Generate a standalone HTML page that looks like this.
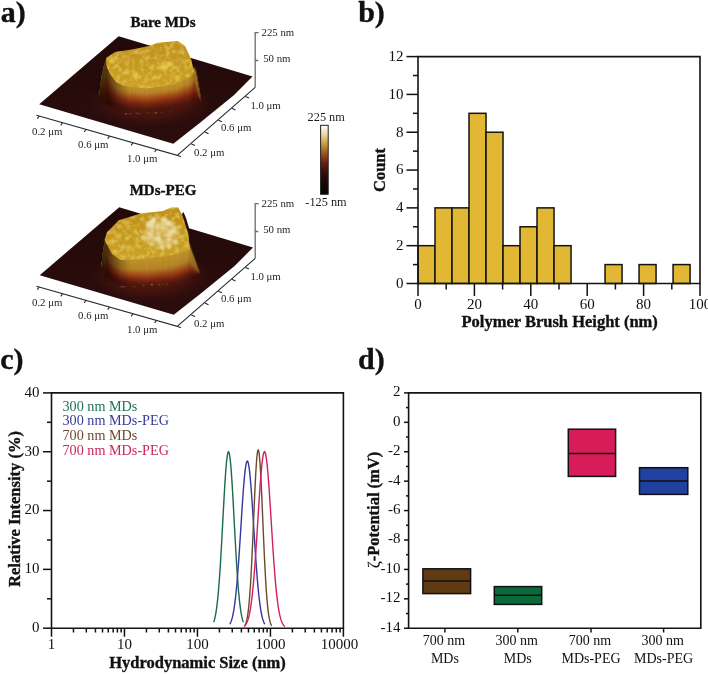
<!DOCTYPE html>
<html><head><meta charset="utf-8"><style>
html,body{margin:0;padding:0;background:#fff;}
svg{display:block;font-family:"Liberation Serif", serif;will-change:transform;}
</style></head><body>
<svg width="708" height="674" viewBox="0 0 708 674">
<defs>
<linearGradient id="plane" x1="0" y1="0" x2="0" y2="1"><stop offset="0" stop-color="#220909"/><stop offset="1" stop-color="#2c0d0d"/></linearGradient>
<linearGradient id="cbar" x1="0" y1="0" x2="0" y2="1"><stop offset="0" stop-color="#fffef5"/><stop offset="0.12" stop-color="#efdcaa"/><stop offset="0.28" stop-color="#c89838"/><stop offset="0.42" stop-color="#9a4a1c"/><stop offset="0.55" stop-color="#6a1c10"/><stop offset="0.68" stop-color="#3a0e0a"/><stop offset="0.85" stop-color="#150606"/><stop offset="1" stop-color="#060202"/></linearGradient>
<linearGradient id="wall-1" x1="0" y1="0" x2="0" y2="1"><stop offset="0" stop-color="#c19329"/><stop offset="0.3" stop-color="#b58327"/><stop offset="0.5" stop-color="#9d4617"/><stop offset="0.68" stop-color="#78230f"/><stop offset="0.86" stop-color="#4c170d"/><stop offset="1" stop-color="#42130d"/></linearGradient>
<linearGradient id="wall0" x1="0" y1="0" x2="0" y2="1"><stop offset="0" stop-color="#c4962a"/><stop offset="0.3" stop-color="#b88628"/><stop offset="0.5" stop-color="#a04818"/><stop offset="0.68" stop-color="#7a2410"/><stop offset="0.86" stop-color="#4e180e"/><stop offset="1" stop-color="#44140e"/></linearGradient>
<linearGradient id="wall1" x1="0" y1="0" x2="0" y2="1"><stop offset="0" stop-color="#c6982a"/><stop offset="0.3" stop-color="#ba8828"/><stop offset="0.5" stop-color="#a24918"/><stop offset="0.68" stop-color="#7b2410"/><stop offset="0.86" stop-color="#4f180e"/><stop offset="1" stop-color="#45140e"/></linearGradient>
<linearGradient id="wall2" x1="0" y1="0" x2="0" y2="1"><stop offset="0" stop-color="#c99a2b"/><stop offset="0.3" stop-color="#bd8a29"/><stop offset="0.5" stop-color="#a44a18"/><stop offset="0.68" stop-color="#7d2510"/><stop offset="0.86" stop-color="#50180e"/><stop offset="1" stop-color="#46140e"/></linearGradient>
<linearGradient id="wallB-1" x1="0" y1="0" x2="0" y2="1"><stop offset="0" stop-color="#c19329"/><stop offset="0.42" stop-color="#b18227"/><stop offset="0.6" stop-color="#9d4617"/><stop offset="0.75" stop-color="#78230f"/><stop offset="0.9" stop-color="#4c170d"/><stop offset="1" stop-color="#42130d"/></linearGradient>
<linearGradient id="wallB0" x1="0" y1="0" x2="0" y2="1"><stop offset="0" stop-color="#c4962a"/><stop offset="0.42" stop-color="#b48428"/><stop offset="0.6" stop-color="#a04818"/><stop offset="0.75" stop-color="#7a2410"/><stop offset="0.9" stop-color="#4e180e"/><stop offset="1" stop-color="#44140e"/></linearGradient>
<linearGradient id="wallB1" x1="0" y1="0" x2="0" y2="1"><stop offset="0" stop-color="#c6982a"/><stop offset="0.42" stop-color="#b68528"/><stop offset="0.6" stop-color="#a24918"/><stop offset="0.75" stop-color="#7b2410"/><stop offset="0.9" stop-color="#4f180e"/><stop offset="1" stop-color="#45140e"/></linearGradient>
<linearGradient id="wallB2" x1="0" y1="0" x2="0" y2="1"><stop offset="0" stop-color="#c99a2b"/><stop offset="0.42" stop-color="#b98729"/><stop offset="0.6" stop-color="#a44a18"/><stop offset="0.75" stop-color="#7d2510"/><stop offset="0.9" stop-color="#50180e"/><stop offset="1" stop-color="#46140e"/></linearGradient>
<linearGradient id="topg" x1="0" y1="0" x2="0" y2="1"><stop offset="0" stop-color="#c08e1e"/><stop offset="0.6" stop-color="#c69a22"/><stop offset="1" stop-color="#cca028"/></linearGradient>
<filter id="wallblur" x="-5%" y="-10%" width="110%" height="120%"><feGaussianBlur stdDeviation="0.35 1.3"/></filter>
<filter id="tex" x="0%" y="0%" width="100%" height="100%"><feTurbulence type="fractalNoise" baseFrequency="0.2" numOctaves="2" seed="7" result="n"/><feColorMatrix in="n" type="matrix" values="0 0 0 0 0.92  0 0 0 0 0.78  0 0 0 0 0.16  0 0 0 1.1 -0.48" result="sp"/><feGaussianBlur in="sp" stdDeviation="0.7" result="spb"/><feComposite in="spb" in2="SourceGraphic" operator="in" result="s2"/><feTurbulence type="fractalNoise" baseFrequency="0.18" numOctaves="2" seed="11" result="n2"/><feColorMatrix in="n2" type="matrix" values="0 0 0 0 0.62  0 0 0 0 0.42  0 0 0 0 0.04  0 0 0 0.8 -0.36" result="dk"/><feComposite in="dk" in2="SourceGraphic" operator="in" result="d2"/><feMerge><feMergeNode in="SourceGraphic"/><feMergeNode in="d2"/><feMergeNode in="s2"/></feMerge></filter>
<filter id="soft" x="-10%" y="-10%" width="120%" height="120%"><feGaussianBlur stdDeviation="0.6"/></filter>
<filter id="blur1" x="-50%" y="-50%" width="200%" height="200%"><feGaussianBlur stdDeviation="0.9"/></filter>
<linearGradient id="wallshade" x1="0" y1="0" x2="1" y2="0"><stop offset="0" stop-color="#1a0a00" stop-opacity="0.85"/><stop offset="0.1" stop-color="#1a0a00" stop-opacity="0.55"/><stop offset="0.2" stop-color="#1a0a00" stop-opacity="0.25"/><stop offset="0.3" stop-color="#1a0a00" stop-opacity="0"/><stop offset="0.88" stop-color="#1a0a00" stop-opacity="0"/><stop offset="0.96" stop-color="#1a0a00" stop-opacity="0.25"/><stop offset="1" stop-color="#1a0a00" stop-opacity="0.5"/></linearGradient>
<radialGradient id="glow"><stop offset="0" stop-color="#6a2010" stop-opacity="0.9"/><stop offset="0.6" stop-color="#5a1a10" stop-opacity="0.5"/><stop offset="1" stop-color="#3a1010" stop-opacity="0"/></radialGradient>
<filter id="blur4" x="-50%" y="-50%" width="200%" height="200%"><feGaussianBlur stdDeviation="5"/></filter>
<filter id="blur2" x="-50%" y="-50%" width="200%" height="200%"><feGaussianBlur stdDeviation="2"/></filter>

</defs>
<rect width="708" height="674" fill="#fff"/>
<text x="0.8" y="22.3" font-size="30" text-anchor="start" font-weight="bold" stroke="#111" stroke-width="0.35" fill="#111" >a)</text>
<text x="358.2" y="22.4" font-size="30" text-anchor="start" font-weight="bold" stroke="#111" stroke-width="0.35" fill="#111" >b)</text>
<text x="0.3" y="368.8" font-size="30" text-anchor="start" font-weight="bold" stroke="#111" stroke-width="0.35" fill="#111" >c)</text>
<text x="358" y="368.8" font-size="30" text-anchor="start" font-weight="bold" stroke="#111" stroke-width="0.35" fill="#111" >d)</text>
<rect x="418" y="245.68" width="17" height="37.82" fill="#E2B734" stroke="#141414" stroke-width="1.5"/>
<rect x="435" y="207.87" width="17" height="75.63" fill="#E2B734" stroke="#141414" stroke-width="1.5"/>
<rect x="452.01" y="207.87" width="17" height="75.63" fill="#E2B734" stroke="#141414" stroke-width="1.5"/>
<rect x="469.01" y="113.32" width="17" height="170.18" fill="#E2B734" stroke="#141414" stroke-width="1.5"/>
<rect x="486.02" y="132.23" width="17" height="151.27" fill="#E2B734" stroke="#141414" stroke-width="1.5"/>
<rect x="503.02" y="245.68" width="17" height="37.82" fill="#E2B734" stroke="#141414" stroke-width="1.5"/>
<rect x="520.03" y="226.78" width="17" height="56.72" fill="#E2B734" stroke="#141414" stroke-width="1.5"/>
<rect x="537.03" y="207.87" width="17" height="75.63" fill="#E2B734" stroke="#141414" stroke-width="1.5"/>
<rect x="554.04" y="245.68" width="17" height="37.82" fill="#E2B734" stroke="#141414" stroke-width="1.5"/>
<rect x="605.05" y="264.59" width="17" height="18.91" fill="#E2B734" stroke="#141414" stroke-width="1.5"/>
<rect x="639.06" y="264.59" width="17" height="18.91" fill="#E2B734" stroke="#141414" stroke-width="1.5"/>
<rect x="673.07" y="264.59" width="17" height="18.91" fill="#E2B734" stroke="#141414" stroke-width="1.5"/>
<path d="M418 56.6H700V283.5H418Z" fill="none" stroke="#141414" stroke-width="1.6"/>
<line x1="406.5" y1="283.5" x2="418" y2="283.5" stroke="#111" stroke-width="1.5"/>
<text x="403.5" y="287.9" font-size="15" text-anchor="end" fill="#111" >0</text>
<line x1="413" y1="264.59" x2="418" y2="264.59" stroke="#111" stroke-width="1.5"/>
<line x1="406.5" y1="245.68" x2="418" y2="245.68" stroke="#111" stroke-width="1.5"/>
<text x="403.5" y="250.08" font-size="15" text-anchor="end" fill="#111" >2</text>
<line x1="413" y1="226.78" x2="418" y2="226.78" stroke="#111" stroke-width="1.5"/>
<line x1="406.5" y1="207.87" x2="418" y2="207.87" stroke="#111" stroke-width="1.5"/>
<text x="403.5" y="212.27" font-size="15" text-anchor="end" fill="#111" >4</text>
<line x1="413" y1="188.96" x2="418" y2="188.96" stroke="#111" stroke-width="1.5"/>
<line x1="406.5" y1="170.05" x2="418" y2="170.05" stroke="#111" stroke-width="1.5"/>
<text x="403.5" y="174.45" font-size="15" text-anchor="end" fill="#111" >6</text>
<line x1="413" y1="151.14" x2="418" y2="151.14" stroke="#111" stroke-width="1.5"/>
<line x1="406.5" y1="132.23" x2="418" y2="132.23" stroke="#111" stroke-width="1.5"/>
<text x="403.5" y="136.63" font-size="15" text-anchor="end" fill="#111" >8</text>
<line x1="413" y1="113.32" x2="418" y2="113.32" stroke="#111" stroke-width="1.5"/>
<line x1="406.5" y1="94.42" x2="418" y2="94.42" stroke="#111" stroke-width="1.5"/>
<text x="403.5" y="98.82" font-size="15" text-anchor="end" fill="#111" >10</text>
<line x1="413" y1="75.51" x2="418" y2="75.51" stroke="#111" stroke-width="1.5"/>
<line x1="406.5" y1="56.6" x2="418" y2="56.6" stroke="#111" stroke-width="1.5"/>
<text x="403.5" y="61" font-size="15" text-anchor="end" fill="#111" >12</text>
<line x1="418" y1="283.5" x2="418" y2="296" stroke="#111" stroke-width="1.5"/>
<text x="418" y="308.5" font-size="15" text-anchor="middle" fill="#111" >0</text>
<line x1="446.2" y1="283.5" x2="446.2" y2="289.5" stroke="#111" stroke-width="1.5"/>
<line x1="474.4" y1="283.5" x2="474.4" y2="296" stroke="#111" stroke-width="1.5"/>
<text x="474.4" y="308.5" font-size="15" text-anchor="middle" fill="#111" >20</text>
<line x1="502.6" y1="283.5" x2="502.6" y2="289.5" stroke="#111" stroke-width="1.5"/>
<line x1="530.8" y1="283.5" x2="530.8" y2="296" stroke="#111" stroke-width="1.5"/>
<text x="530.8" y="308.5" font-size="15" text-anchor="middle" fill="#111" >40</text>
<line x1="559" y1="283.5" x2="559" y2="289.5" stroke="#111" stroke-width="1.5"/>
<line x1="587.2" y1="283.5" x2="587.2" y2="296" stroke="#111" stroke-width="1.5"/>
<text x="587.2" y="308.5" font-size="15" text-anchor="middle" fill="#111" >60</text>
<line x1="615.4" y1="283.5" x2="615.4" y2="289.5" stroke="#111" stroke-width="1.5"/>
<line x1="643.6" y1="283.5" x2="643.6" y2="296" stroke="#111" stroke-width="1.5"/>
<text x="643.6" y="308.5" font-size="15" text-anchor="middle" fill="#111" >80</text>
<line x1="671.8" y1="283.5" x2="671.8" y2="289.5" stroke="#111" stroke-width="1.5"/>
<line x1="700" y1="283.5" x2="700" y2="296" stroke="#111" stroke-width="1.5"/>
<text x="700" y="308.5" font-size="15" text-anchor="middle" fill="#111" >100</text>
<text x="559.7" y="326.7" font-size="16.5" text-anchor="middle" font-weight="bold" stroke="#111" stroke-width="0.35" fill="#111" >Polymer Brush Height (nm)</text>
<text x="0" y="0" font-size="16.5" text-anchor="middle" font-weight="bold" stroke="#111" stroke-width="0.35" fill="#111" transform="translate(384.9 170) rotate(-90)">Count</text>
<path d="M51.5 392.9H343.4V628.2H51.5Z" fill="none" stroke="#141414" stroke-width="1.6"/>
<line x1="43" y1="628.2" x2="51.5" y2="628.2" stroke="#111" stroke-width="1.5"/>
<text x="39.5" y="632" font-size="15" text-anchor="end" fill="#111" >0</text>
<line x1="47" y1="598.79" x2="51.5" y2="598.79" stroke="#111" stroke-width="1.5"/>
<line x1="43" y1="569.38" x2="51.5" y2="569.38" stroke="#111" stroke-width="1.5"/>
<text x="39.5" y="573.17" font-size="15" text-anchor="end" fill="#111" >10</text>
<line x1="47" y1="539.96" x2="51.5" y2="539.96" stroke="#111" stroke-width="1.5"/>
<line x1="43" y1="510.55" x2="51.5" y2="510.55" stroke="#111" stroke-width="1.5"/>
<text x="39.5" y="514.35" font-size="15" text-anchor="end" fill="#111" >20</text>
<line x1="47" y1="481.14" x2="51.5" y2="481.14" stroke="#111" stroke-width="1.5"/>
<line x1="43" y1="451.73" x2="51.5" y2="451.73" stroke="#111" stroke-width="1.5"/>
<text x="39.5" y="455.53" font-size="15" text-anchor="end" fill="#111" >30</text>
<line x1="47" y1="422.31" x2="51.5" y2="422.31" stroke="#111" stroke-width="1.5"/>
<line x1="43" y1="392.9" x2="51.5" y2="392.9" stroke="#111" stroke-width="1.5"/>
<text x="39.5" y="396.7" font-size="15" text-anchor="end" fill="#111" >40</text>
<line x1="51.5" y1="628.2" x2="51.5" y2="636.7" stroke="#111" stroke-width="1.5"/>
<text x="51.5" y="649.4" font-size="15" text-anchor="middle" fill="#111" >1</text>
<line x1="73.47" y1="628.2" x2="73.47" y2="632.5" stroke="#111" stroke-width="1.5"/>
<line x1="86.32" y1="628.2" x2="86.32" y2="632.5" stroke="#111" stroke-width="1.5"/>
<line x1="95.44" y1="628.2" x2="95.44" y2="632.5" stroke="#111" stroke-width="1.5"/>
<line x1="102.51" y1="628.2" x2="102.51" y2="632.5" stroke="#111" stroke-width="1.5"/>
<line x1="108.29" y1="628.2" x2="108.29" y2="632.5" stroke="#111" stroke-width="1.5"/>
<line x1="113.17" y1="628.2" x2="113.17" y2="632.5" stroke="#111" stroke-width="1.5"/>
<line x1="117.4" y1="628.2" x2="117.4" y2="632.5" stroke="#111" stroke-width="1.5"/>
<line x1="121.14" y1="628.2" x2="121.14" y2="632.5" stroke="#111" stroke-width="1.5"/>
<line x1="124.47" y1="628.2" x2="124.47" y2="636.7" stroke="#111" stroke-width="1.5"/>
<text x="124.47" y="649.4" font-size="15" text-anchor="middle" fill="#111" >10</text>
<line x1="146.44" y1="628.2" x2="146.44" y2="632.5" stroke="#111" stroke-width="1.5"/>
<line x1="159.29" y1="628.2" x2="159.29" y2="632.5" stroke="#111" stroke-width="1.5"/>
<line x1="168.41" y1="628.2" x2="168.41" y2="632.5" stroke="#111" stroke-width="1.5"/>
<line x1="175.48" y1="628.2" x2="175.48" y2="632.5" stroke="#111" stroke-width="1.5"/>
<line x1="181.26" y1="628.2" x2="181.26" y2="632.5" stroke="#111" stroke-width="1.5"/>
<line x1="186.15" y1="628.2" x2="186.15" y2="632.5" stroke="#111" stroke-width="1.5"/>
<line x1="190.38" y1="628.2" x2="190.38" y2="632.5" stroke="#111" stroke-width="1.5"/>
<line x1="194.11" y1="628.2" x2="194.11" y2="632.5" stroke="#111" stroke-width="1.5"/>
<line x1="197.45" y1="628.2" x2="197.45" y2="636.7" stroke="#111" stroke-width="1.5"/>
<text x="197.45" y="649.4" font-size="15" text-anchor="middle" fill="#111" >100</text>
<line x1="219.42" y1="628.2" x2="219.42" y2="632.5" stroke="#111" stroke-width="1.5"/>
<line x1="232.27" y1="628.2" x2="232.27" y2="632.5" stroke="#111" stroke-width="1.5"/>
<line x1="241.39" y1="628.2" x2="241.39" y2="632.5" stroke="#111" stroke-width="1.5"/>
<line x1="248.46" y1="628.2" x2="248.46" y2="632.5" stroke="#111" stroke-width="1.5"/>
<line x1="254.24" y1="628.2" x2="254.24" y2="632.5" stroke="#111" stroke-width="1.5"/>
<line x1="259.12" y1="628.2" x2="259.12" y2="632.5" stroke="#111" stroke-width="1.5"/>
<line x1="263.35" y1="628.2" x2="263.35" y2="632.5" stroke="#111" stroke-width="1.5"/>
<line x1="267.09" y1="628.2" x2="267.09" y2="632.5" stroke="#111" stroke-width="1.5"/>
<line x1="270.42" y1="628.2" x2="270.42" y2="636.7" stroke="#111" stroke-width="1.5"/>
<text x="270.42" y="649.4" font-size="15" text-anchor="middle" fill="#111" >1000</text>
<line x1="292.39" y1="628.2" x2="292.39" y2="632.5" stroke="#111" stroke-width="1.5"/>
<line x1="305.24" y1="628.2" x2="305.24" y2="632.5" stroke="#111" stroke-width="1.5"/>
<line x1="314.36" y1="628.2" x2="314.36" y2="632.5" stroke="#111" stroke-width="1.5"/>
<line x1="321.43" y1="628.2" x2="321.43" y2="632.5" stroke="#111" stroke-width="1.5"/>
<line x1="327.21" y1="628.2" x2="327.21" y2="632.5" stroke="#111" stroke-width="1.5"/>
<line x1="332.1" y1="628.2" x2="332.1" y2="632.5" stroke="#111" stroke-width="1.5"/>
<line x1="336.33" y1="628.2" x2="336.33" y2="632.5" stroke="#111" stroke-width="1.5"/>
<line x1="340.06" y1="628.2" x2="340.06" y2="632.5" stroke="#111" stroke-width="1.5"/>
<line x1="343.4" y1="628.2" x2="343.4" y2="636.7" stroke="#111" stroke-width="1.5"/>
<text x="339.6" y="649.4" font-size="15" text-anchor="middle" fill="#111" >10000</text>
<text x="197.5" y="667.5" font-size="16.5" text-anchor="middle" font-weight="bold" stroke="#111" stroke-width="0.35" fill="#111" >Hydrodynamic Size (nm)</text>
<text x="0" y="0" font-size="16.5" text-anchor="middle" font-weight="bold" stroke="#111" stroke-width="0.35" fill="#111" transform="translate(19.9 509) rotate(-90)">Relative Intensity (%)</text>
<text x="62.5" y="410.8" font-size="14.2" text-anchor="start" fill="#1F7350" >300 nm MDs</text>
<text x="62.5" y="425.4" font-size="14.2" text-anchor="start" fill="#3A3A9A" >300 nm MDs-PEG</text>
<text x="62.5" y="440" font-size="14.2" text-anchor="start" fill="#6B4A2E" >700 nm MDs</text>
<text x="62.5" y="454.6" font-size="14.2" text-anchor="start" fill="#C8285A" >700 nm MDs-PEG</text>
<polyline points="213.7,622.14 214.07,621.04 214.44,619.78 214.81,618.34 215.18,616.7 215.55,614.84 215.92,612.75 216.29,610.41 216.66,607.79 217.03,604.9 217.4,601.7 217.77,598.2 218.14,594.37 218.51,590.21 218.88,585.72 219.25,580.9 219.62,575.76 219.99,570.3 220.36,564.54 220.73,558.51 221.1,552.22 221.47,545.71 221.84,539.03 222.21,532.2 222.58,525.29 222.95,518.35 223.32,511.43 223.69,504.59 224.06,497.91 224.43,491.44 224.8,485.25 225.17,479.41 225.54,473.99 225.91,469.03 226.28,464.61 226.65,460.78 227.02,457.57 227.39,455.04 227.76,453.21 228.13,452.1 228.5,451.73 228.87,452.1 229.24,453.21 229.61,455.04 229.98,457.57 230.35,460.78 230.72,464.61 231.09,469.03 231.46,473.99 231.83,479.41 232.2,485.25 232.57,491.44 232.94,497.91 233.31,504.59 233.68,511.43 234.05,518.35 234.42,525.29 234.79,532.2 235.16,539.03 235.53,545.71 235.9,552.22 236.27,558.51 236.64,564.54 237.01,570.3 237.38,575.76 237.75,580.9 238.12,585.72 238.49,590.21 238.86,594.37 239.23,598.2 239.6,601.7 239.97,604.9 240.34,607.79 240.71,610.41 241.08,612.75 241.45,614.84 241.82,616.7 242.19,618.34 242.56,619.78 242.93,621.04 243.3,622.14" fill="none" stroke="#1A6B48" stroke-width="1.4"/>
<polyline points="229.8,624.23 230.24,623.42 230.68,622.48 231.11,621.38 231.55,620.11 231.99,618.65 232.43,616.98 232.86,615.08 233.3,612.93 233.74,610.51 234.18,607.8 234.61,604.79 235.05,601.45 235.49,597.78 235.93,593.77 236.36,589.41 236.8,584.71 237.24,579.66 237.68,574.28 238.11,568.58 238.55,562.59 238.99,556.33 239.43,549.84 239.86,543.16 240.3,536.34 240.74,529.44 241.18,522.52 241.61,515.64 242.05,508.87 242.49,502.28 242.93,495.95 243.36,489.94 243.8,484.34 244.24,479.21 244.68,474.61 245.11,470.62 245.55,467.27 245.99,464.61 246.43,462.69 246.86,461.53 247.3,461.14 247.74,461.53 248.18,462.69 248.61,464.61 249.05,467.27 249.49,470.62 249.93,474.61 250.36,479.21 250.8,484.34 251.24,489.94 251.68,495.95 252.11,502.28 252.55,508.87 252.99,515.64 253.43,522.52 253.86,529.44 254.3,536.34 254.74,543.16 255.18,549.84 255.61,556.33 256.05,562.59 256.49,568.58 256.93,574.28 257.36,579.66 257.8,584.71 258.24,589.41 258.68,593.77 259.11,597.78 259.55,601.45 259.99,604.79 260.43,607.8 260.86,610.51 261.3,612.93 261.74,615.08 262.18,616.98 262.61,618.65 263.05,620.11 263.49,621.38 263.93,622.48 264.36,623.42 264.8,624.23" fill="none" stroke="#3636A0" stroke-width="1.4"/>
<polyline points="244.7,625.8 245.04,625.23 245.38,624.54 245.71,623.73 246.05,622.75 246.39,621.61 246.72,620.26 247.06,618.69 247.4,616.88 247.74,614.78 248.07,612.39 248.41,609.67 248.75,606.59 249.09,603.15 249.42,599.31 249.76,595.05 250.1,590.38 250.44,585.28 250.77,579.76 251.11,573.81 251.45,567.47 251.79,560.74 252.12,553.68 252.46,546.32 252.8,538.71 253.14,530.93 253.47,523.03 253.81,515.1 254.15,507.23 254.49,499.5 254.82,492.02 255.16,484.88 255.5,478.16 255.84,471.98 256.18,466.42 256.51,461.56 256.85,457.47 257.19,454.23 257.52,451.87 257.86,450.44 258.2,449.96 258.54,450.44 258.88,451.87 259.21,454.23 259.55,457.47 259.89,461.56 260.22,466.42 260.56,471.98 260.9,478.16 261.24,484.88 261.57,492.02 261.91,499.5 262.25,507.23 262.59,515.1 262.93,523.03 263.26,530.93 263.6,538.71 263.94,546.32 264.27,553.68 264.61,560.74 264.95,567.47 265.29,573.81 265.62,579.76 265.96,585.28 266.3,590.38 266.64,595.05 266.97,599.31 267.31,603.15 267.65,606.59 267.99,609.67 268.32,612.39 268.66,614.78 269,616.88 269.34,618.69 269.68,620.26 270.01,621.61 270.35,622.75 270.69,623.73 271.02,624.54 271.36,625.23 271.7,625.8" fill="none" stroke="#6B4A2A" stroke-width="1.4"/>
<polyline points="244,626.56 244.51,626.14 245.03,625.62 245.54,624.98 246.05,624.22 246.56,623.3 247.07,622.2 247.59,620.9 248.1,619.38 248.61,617.59 249.12,615.52 249.64,613.13 250.15,610.39 250.66,607.29 251.18,603.78 251.69,599.85 252.2,595.48 252.71,590.65 253.22,585.37 253.74,579.63 254.25,573.44 254.76,566.82 255.28,559.81 255.79,552.43 256.3,544.75 256.81,536.83 257.32,528.74 257.84,520.56 258.35,512.4 258.86,504.34 259.38,496.49 259.89,488.96 260.4,481.86 260.91,475.29 261.43,469.37 261.94,464.17 262.45,459.8 262.96,456.31 263.48,453.78 263.99,452.24 264.5,451.73 265.01,452.24 265.52,453.78 266.04,456.31 266.55,459.8 267.06,464.17 267.57,469.37 268.09,475.29 268.6,481.86 269.11,488.96 269.62,496.49 270.14,504.34 270.65,512.4 271.16,520.56 271.68,528.74 272.19,536.83 272.7,544.75 273.21,552.43 273.73,559.81 274.24,566.82 274.75,573.44 275.26,579.63 275.77,585.37 276.29,590.65 276.8,595.48 277.31,599.85 277.82,603.78 278.34,607.29 278.85,610.39 279.36,613.13 279.88,615.52 280.39,617.59 280.9,619.38 281.41,620.9 281.93,622.2 282.44,623.3 282.95,624.22 283.46,624.98 283.98,625.62 284.49,626.14 285,626.56" fill="none" stroke="#D02060" stroke-width="1.4"/>
<path d="M408.6 392.9H700.8V628.25H408.6Z" fill="none" stroke="#141414" stroke-width="1.6"/>
<line x1="404" y1="628.25" x2="408.6" y2="628.25" stroke="#111" stroke-width="1.5"/>
<text x="400.5" y="631.75" font-size="15" text-anchor="end" fill="#111" >-14</text>
<line x1="406" y1="613.54" x2="408.6" y2="613.54" stroke="#111" stroke-width="1.5"/>
<line x1="404" y1="598.83" x2="408.6" y2="598.83" stroke="#111" stroke-width="1.5"/>
<text x="400.5" y="602.33" font-size="15" text-anchor="end" fill="#111" >-12</text>
<line x1="406" y1="584.12" x2="408.6" y2="584.12" stroke="#111" stroke-width="1.5"/>
<line x1="404" y1="569.41" x2="408.6" y2="569.41" stroke="#111" stroke-width="1.5"/>
<text x="400.5" y="572.91" font-size="15" text-anchor="end" fill="#111" >-10</text>
<line x1="406" y1="554.7" x2="408.6" y2="554.7" stroke="#111" stroke-width="1.5"/>
<line x1="404" y1="539.99" x2="408.6" y2="539.99" stroke="#111" stroke-width="1.5"/>
<text x="400.5" y="543.49" font-size="15" text-anchor="end" fill="#111" >-8</text>
<line x1="406" y1="525.28" x2="408.6" y2="525.28" stroke="#111" stroke-width="1.5"/>
<line x1="404" y1="510.57" x2="408.6" y2="510.57" stroke="#111" stroke-width="1.5"/>
<text x="400.5" y="514.08" font-size="15" text-anchor="end" fill="#111" >-6</text>
<line x1="406" y1="495.87" x2="408.6" y2="495.87" stroke="#111" stroke-width="1.5"/>
<line x1="404" y1="481.16" x2="408.6" y2="481.16" stroke="#111" stroke-width="1.5"/>
<text x="400.5" y="484.66" font-size="15" text-anchor="end" fill="#111" >-4</text>
<line x1="406" y1="466.45" x2="408.6" y2="466.45" stroke="#111" stroke-width="1.5"/>
<line x1="404" y1="451.74" x2="408.6" y2="451.74" stroke="#111" stroke-width="1.5"/>
<text x="400.5" y="455.24" font-size="15" text-anchor="end" fill="#111" >-2</text>
<line x1="406" y1="437.03" x2="408.6" y2="437.03" stroke="#111" stroke-width="1.5"/>
<line x1="404" y1="422.32" x2="408.6" y2="422.32" stroke="#111" stroke-width="1.5"/>
<text x="400.5" y="425.82" font-size="15" text-anchor="end" fill="#111" >0</text>
<line x1="406" y1="407.61" x2="408.6" y2="407.61" stroke="#111" stroke-width="1.5"/>
<line x1="404" y1="392.9" x2="408.6" y2="392.9" stroke="#111" stroke-width="1.5"/>
<text x="400.5" y="396.4" font-size="15" text-anchor="end" fill="#111" >2</text>
<line x1="444.9" y1="628.25" x2="444.9" y2="632.5" stroke="#111" stroke-width="1.5"/>
<text x="443.9" y="645.2" font-size="14" text-anchor="middle" fill="#111" >700 nm</text>
<text x="444.9" y="662.6" font-size="14" text-anchor="middle" fill="#111" >MDs</text>
<line x1="517.8" y1="628.25" x2="517.8" y2="632.5" stroke="#111" stroke-width="1.5"/>
<text x="516.8" y="645.2" font-size="14" text-anchor="middle" fill="#111" >300 nm</text>
<text x="517.8" y="662.6" font-size="14" text-anchor="middle" fill="#111" >MDs</text>
<line x1="591" y1="628.25" x2="591" y2="632.5" stroke="#111" stroke-width="1.5"/>
<text x="590" y="645.2" font-size="14" text-anchor="middle" fill="#111" >700 nm</text>
<text x="591" y="662.6" font-size="14" text-anchor="middle" fill="#111" >MDs-PEG</text>
<line x1="663.6" y1="628.25" x2="663.6" y2="632.5" stroke="#111" stroke-width="1.5"/>
<text x="662.6" y="645.2" font-size="14" text-anchor="middle" fill="#111" >300 nm</text>
<text x="663.6" y="662.6" font-size="14" text-anchor="middle" fill="#111" >MDs-PEG</text>
<rect x="422.9" y="568.8" width="47.7" height="24.8" fill="#5F3A12" stroke="#111" stroke-width="1.5"/>
<line x1="422.9" y1="581.1" x2="470.6" y2="581.1" stroke="#111" stroke-width="1.5"/>
<rect x="494.3" y="586.6" width="47.4" height="17.8" fill="#0B6A3A" stroke="#111" stroke-width="1.5"/>
<line x1="494.3" y1="595.3" x2="541.7" y2="595.3" stroke="#111" stroke-width="1.5"/>
<rect x="568.3" y="429.2" width="47.3" height="47.2" fill="#D81C5A" stroke="#111" stroke-width="1.5"/>
<line x1="568.3" y1="453.4" x2="615.6" y2="453.4" stroke="#111" stroke-width="1.5"/>
<rect x="639.5" y="467.7" width="48.3" height="26.7" fill="#2240A0" stroke="#111" stroke-width="1.5"/>
<line x1="639.5" y1="481" x2="687.8" y2="481" stroke="#111" stroke-width="1.5"/>
<text x="0" y="0" font-size="16.5" text-anchor="middle" font-weight="bold" stroke="#111" stroke-width="0.35" fill="#111" transform="translate(379.3 510) rotate(-90)"><tspan font-weight="normal" font-size="17" stroke-width="0.1">ζ</tspan>-Potential (mV)</text>
<path d="M39.2,104.2 L118.7,36.2 L252.5,76.5 L234.1,95 L200,122.8 L173.3,143.7 Z" fill="url(#plane)"/>
<ellipse cx="149.75" cy="102" rx="64.75" ry="26" fill="url(#glow)"/>
<g filter="url(#wallblur)">
<rect x="99" y="91" width="1.4" height="7" fill="url(#wall0)"/>
<rect x="100" y="82.67" width="1.4" height="17.33" fill="url(#wall-1)"/>
<rect x="101" y="76" width="1.4" height="26" fill="url(#wall0)"/>
<rect x="102" y="71.5" width="1.4" height="31.72" fill="url(#wall0)"/>
<rect x="103" y="67" width="1.4" height="36.67" fill="url(#wall0)"/>
<rect x="104" y="64" width="1.4" height="40.11" fill="url(#wall1)"/>
<rect x="105" y="61" width="1.4" height="43.56" fill="url(#wall1)"/>
<rect x="106" y="60.33" width="1.4" height="44.67" fill="url(#wall1)"/>
<rect x="107" y="61.67" width="1.4" height="43.78" fill="url(#wall1)"/>
<rect x="108" y="65" width="1.4" height="40.89" fill="url(#wall0)"/>
<rect x="109" y="68.33" width="1.4" height="38" fill="url(#wall0)"/>
<rect x="110" y="70.67" width="1.4" height="36.11" fill="url(#wall1)"/>
<rect x="111" y="72" width="1.4" height="35.22" fill="url(#wall0)"/>
<rect x="112" y="73.33" width="1.4" height="34.33" fill="url(#wall1)"/>
<rect x="113" y="74.67" width="1.4" height="33.44" fill="url(#wall1)"/>
<rect x="114" y="76" width="1.4" height="32.56" fill="url(#wall-1)"/>
<rect x="115" y="77.33" width="1.4" height="31.67" fill="url(#wall0)"/>
<rect x="116" y="78.25" width="1.4" height="31.19" fill="url(#wall1)"/>
<rect x="117" y="78.75" width="1.4" height="31.14" fill="url(#wall0)"/>
<rect x="118" y="79.25" width="1.4" height="31.08" fill="url(#wall0)"/>
<rect x="119" y="79.75" width="1.4" height="31.03" fill="url(#wall-1)"/>
<rect x="120" y="80.25" width="1.4" height="30.81" fill="url(#wall0)"/>
<rect x="121" y="80.75" width="1.4" height="30.42" fill="url(#wall0)"/>
<rect x="122" y="81.25" width="1.4" height="30.04" fill="url(#wall0)"/>
<rect x="123" y="81.75" width="1.4" height="29.65" fill="url(#wall0)"/>
<rect x="124" y="82.06" width="1.4" height="29.46" fill="url(#wall0)"/>
<rect x="125" y="82.17" width="1.4" height="29.46" fill="url(#wall-1)"/>
<rect x="126" y="82.28" width="1.4" height="29.47" fill="url(#wall0)"/>
<rect x="127" y="82.4" width="1.4" height="29.47" fill="url(#wall1)"/>
<rect x="128" y="82.51" width="1.4" height="29.47" fill="url(#wall0)"/>
<rect x="129" y="82.62" width="1.4" height="29.47" fill="url(#wall1)"/>
<rect x="130" y="82.74" width="1.4" height="29.47" fill="url(#wall0)"/>
<rect x="131" y="82.85" width="1.4" height="29.47" fill="url(#wall-1)"/>
<rect x="132" y="82.97" width="1.4" height="29.48" fill="url(#wall0)"/>
<rect x="133" y="83.08" width="1.4" height="29.48" fill="url(#wall1)"/>
<rect x="134" y="83.19" width="1.4" height="29.48" fill="url(#wall1)"/>
<rect x="135" y="83.31" width="1.4" height="29.48" fill="url(#wall-1)"/>
<rect x="136" y="83.42" width="1.4" height="29.48" fill="url(#wall0)"/>
<rect x="137" y="83.53" width="1.4" height="29.49" fill="url(#wall0)"/>
<rect x="138" y="83.65" width="1.4" height="29.49" fill="url(#wall0)"/>
<rect x="139" y="83.76" width="1.4" height="29.49" fill="url(#wall0)"/>
<rect x="140" y="83.88" width="1.4" height="29.49" fill="url(#wall1)"/>
<rect x="141" y="83.99" width="1.4" height="29.49" fill="url(#wall0)"/>
<rect x="142" y="84.1" width="1.4" height="29.49" fill="url(#wall0)"/>
<rect x="143" y="84.22" width="1.4" height="29.5" fill="url(#wall1)"/>
<rect x="144" y="84.33" width="1.4" height="29.5" fill="url(#wall-1)"/>
<rect x="145" y="84.44" width="1.4" height="29.5" fill="url(#wall0)"/>
<rect x="146" y="84.43" width="1.4" height="29.51" fill="url(#wall0)"/>
<rect x="147" y="84.28" width="1.4" height="29.52" fill="url(#wall0)"/>
<rect x="148" y="84.13" width="1.4" height="29.53" fill="url(#wall0)"/>
<rect x="149" y="83.98" width="1.4" height="29.54" fill="url(#wall0)"/>
<rect x="150" y="83.83" width="1.4" height="29.55" fill="url(#wall-1)"/>
<rect x="151" y="83.68" width="1.4" height="29.56" fill="url(#wall1)"/>
<rect x="152" y="83.54" width="1.4" height="29.57" fill="url(#wall-1)"/>
<rect x="153" y="83.39" width="1.4" height="29.58" fill="url(#wall0)"/>
<rect x="154" y="83.24" width="1.4" height="29.59" fill="url(#wall0)"/>
<rect x="155" y="83.09" width="1.4" height="29.6" fill="url(#wall0)"/>
<rect x="156" y="82.94" width="1.4" height="29.61" fill="url(#wall-1)"/>
<rect x="157" y="82.79" width="1.4" height="29.62" fill="url(#wall1)"/>
<rect x="158" y="82.65" width="1.4" height="29.63" fill="url(#wall-1)"/>
<rect x="159" y="82.5" width="1.4" height="29.64" fill="url(#wall1)"/>
<rect x="160" y="82.35" width="1.4" height="29.65" fill="url(#wall-1)"/>
<rect x="161" y="82.2" width="1.4" height="29.66" fill="url(#wall0)"/>
<rect x="162" y="82.05" width="1.4" height="29.67" fill="url(#wall1)"/>
<rect x="163" y="81.91" width="1.4" height="29.68" fill="url(#wall0)"/>
<rect x="164" y="81.76" width="1.4" height="29.69" fill="url(#wall1)"/>
<rect x="165" y="81.61" width="1.4" height="29.7" fill="url(#wall1)"/>
<rect x="166" y="81.46" width="1.4" height="29.71" fill="url(#wall0)"/>
<rect x="167" y="81.31" width="1.4" height="29.72" fill="url(#wall0)"/>
<rect x="168" y="81.16" width="1.4" height="29.73" fill="url(#wall-1)"/>
<rect x="169" y="81.02" width="1.4" height="29.74" fill="url(#wall0)"/>
<rect x="170" y="80.87" width="1.4" height="29.75" fill="url(#wall0)"/>
<rect x="171" y="80.72" width="1.4" height="29.76" fill="url(#wall1)"/>
<rect x="172" y="80.57" width="1.4" height="29.77" fill="url(#wall-1)"/>
<rect x="173" y="80.42" width="1.4" height="29.78" fill="url(#wall0)"/>
<rect x="174" y="80.27" width="1.4" height="29.79" fill="url(#wall0)"/>
<rect x="175" y="79.95" width="1.4" height="29.93" fill="url(#wall-1)"/>
<rect x="176" y="79.46" width="1.4" height="30.19" fill="url(#wall1)"/>
<rect x="177" y="78.96" width="1.4" height="30.45" fill="url(#wall0)"/>
<rect x="178" y="78.47" width="1.4" height="30.71" fill="url(#wall1)"/>
<rect x="179" y="77.98" width="1.4" height="30.96" fill="url(#wall0)"/>
<rect x="180" y="77.48" width="1.4" height="31.22" fill="url(#wall1)"/>
<rect x="181" y="76.99" width="1.4" height="31.48" fill="url(#wall0)"/>
<rect x="182" y="76.49" width="1.4" height="31.74" fill="url(#wall0)"/>
<rect x="183" y="76" width="1.4" height="32" fill="url(#wall-1)"/>
<rect x="184" y="75.51" width="1.4" height="32.26" fill="url(#wall-1)"/>
<rect x="185" y="75.01" width="1.4" height="32.52" fill="url(#wall-1)"/>
<rect x="186" y="74.52" width="1.4" height="32.78" fill="url(#wall1)"/>
<rect x="187" y="74.02" width="1.4" height="33.04" fill="url(#wall0)"/>
<rect x="188" y="73.53" width="1.4" height="33.29" fill="url(#wall0)"/>
<rect x="189" y="73.04" width="1.4" height="33.55" fill="url(#wall-1)"/>
<rect x="190" y="72.54" width="1.4" height="33.81" fill="url(#wall0)"/>
<rect x="191" y="72.05" width="1.4" height="34.07" fill="url(#wall0)"/>
<rect x="192" y="70.6" width="1.4" height="35.11" fill="url(#wall0)"/>
<rect x="193" y="68.2" width="1.4" height="36.92" fill="url(#wall-1)"/>
<rect x="194" y="68.5" width="1.4" height="36.03" fill="url(#wall-1)"/>
<rect x="195" y="71.5" width="1.4" height="32.44" fill="url(#wall0)"/>
<rect x="196" y="76" width="1.4" height="27.35" fill="url(#wall1)"/>
<rect x="197" y="82" width="1.4" height="20.76" fill="url(#wall-1)"/>
<rect x="198" y="88" width="1.4" height="14.18" fill="url(#wall0)"/>
<rect x="199" y="94" width="1.4" height="7.59" fill="url(#wall-1)"/>
<rect x="200" y="100" width="1.4" height="1" fill="url(#wall0)"/>
</g>
<path d="M99,96 L100,86 L101,79.33 L102,73.75 L103,69.25 L104,65.5 L105,62.5 L106,60.67 L107,60 L108,63.33 L109,66.67 L110,70 L111,71.33 L112,72.67 L113,74 L114,75.33 L115,76.67 L116,78 L117,78.5 L118,79 L119,79.5 L120,80 L121,80.5 L122,81 L123,81.5 L124,82 L125,82.11 L126,82.23 L127,82.34 L128,82.45 L129,82.57 L130,82.68 L131,82.8 L132,82.91 L133,83.02 L134,83.14 L135,83.25 L136,83.36 L137,83.48 L138,83.59 L139,83.7 L140,83.82 L141,83.93 L142,84.05 L143,84.16 L144,84.27 L145,84.39 L146,84.5 L147,84.35 L148,84.2 L149,84.06 L150,83.91 L151,83.76 L152,83.61 L153,83.46 L154,83.31 L155,83.17 L156,83.02 L157,82.87 L158,82.72 L159,82.57 L160,82.42 L161,82.28 L162,82.13 L163,81.98 L164,81.83 L165,81.68 L166,81.53 L167,81.39 L168,81.24 L169,81.09 L170,80.94 L171,80.79 L172,80.64 L173,80.5 L174,80.35 L175,80.2 L176,79.71 L177,79.21 L178,78.72 L179,78.22 L180,77.73 L181,77.24 L182,76.74 L183,76.25 L184,75.75 L185,75.26 L186,74.76 L187,74.27 L188,73.78 L189,73.28 L190,72.79 L191,72.29 L192,71.8 L193,69.4 L194,67 L195,70 L196,73 L197,79 L198,85 L199,91 L200,97 L200.5,101 L199.5,101.59 L198.5,102.18 L197.5,102.76 L196.5,103.35 L195.5,103.94 L194.5,104.53 L193.5,105.12 L192.5,105.71 L191.5,106.12 L190.5,106.35 L189.5,106.59 L188.5,106.82 L187.5,107.06 L186.5,107.29 L185.5,107.53 L184.5,107.76 L183.5,108 L182.5,108.24 L181.5,108.47 L180.5,108.71 L179.5,108.94 L178.5,109.18 L177.5,109.41 L176.5,109.65 L175.5,109.88 L174.5,110.07 L173.5,110.21 L172.5,110.34 L171.5,110.48 L170.5,110.62 L169.5,110.76 L168.5,110.9 L167.5,111.03 L166.5,111.17 L165.5,111.31 L164.5,111.45 L163.5,111.59 L162.5,111.72 L161.5,111.86 L160.5,112 L159.5,112.14 L158.5,112.28 L157.5,112.41 L156.5,112.55 L155.5,112.69 L154.5,112.83 L153.5,112.97 L152.5,113.1 L151.5,113.24 L150.5,113.38 L149.5,113.52 L148.5,113.66 L147.5,113.79 L146.5,113.93 L145.5,113.94 L144.5,113.83 L143.5,113.71 L142.5,113.6 L141.5,113.48 L140.5,113.37 L139.5,113.25 L138.5,113.13 L137.5,113.02 L136.5,112.9 L135.5,112.79 L134.5,112.67 L133.5,112.56 L132.5,112.44 L131.5,112.33 L130.5,112.21 L129.5,112.1 L128.5,111.98 L127.5,111.87 L126.5,111.75 L125.5,111.63 L124.5,111.52 L123.5,111.4 L122.5,111.29 L121.5,111.17 L120.5,111.06 L119.5,110.78 L118.5,110.33 L117.5,109.89 L116.5,109.44 L115.5,109 L114.5,108.56 L113.5,108.11 L112.5,107.67 L111.5,107.22 L110.5,106.78 L109.5,106.33 L108.5,105.89 L107.5,105.44 L106.5,105 L105.5,104.56 L104.5,104.11 L103.5,103.67 L102.5,103.22 L101.5,102 L100.5,100 L99.5,98 Z" fill="url(#wallshade)" filter="url(#wallblur)"/>
<path d="M106,58 L115,52 L132,49.5 L149,46 L158,42.7 L178,41 L185,46 L191,58.8 L194.2,72.4 L191.7,75.8 L174.7,84.2 L146,88.5 L124,86 L116,82 L110,74 L106.5,66 Z" fill="url(#topg)" filter="url(#tex)"/>
<ellipse cx="112" cy="61" rx="3" ry="2.5" fill="#f0d050" opacity="0.8" filter="url(#blur1)"/>
<ellipse cx="135" cy="74" rx="3" ry="2.5" fill="#efd050" opacity="0.7" filter="url(#blur1)"/>
<ellipse cx="164" cy="67" rx="4.5" ry="3" fill="#f2d860" opacity="0.75" filter="url(#blur1)"/>
<ellipse cx="170" cy="64" rx="3" ry="2.5" fill="#f4dc60" opacity="0.7" filter="url(#blur1)"/>
<ellipse cx="147" cy="79" rx="2.5" ry="2" fill="#edc84a" opacity="0.6" filter="url(#blur1)"/>
<ellipse cx="120" cy="70" rx="2" ry="2" fill="#eccc4a" opacity="0.6" filter="url(#blur1)"/>
<ellipse cx="177" cy="77" rx="2.5" ry="2" fill="#eccc4a" opacity="0.6" filter="url(#blur1)"/>
<ellipse cx="149.08" cy="112.98" rx="0.91" ry="0.6" fill="#b87060" opacity="0.42"/>
<ellipse cx="125.33" cy="114.09" rx="1.52" ry="0.6" fill="#b87060" opacity="0.22"/>
<ellipse cx="153.82" cy="113.09" rx="0.83" ry="0.6" fill="#b87060" opacity="0.29"/>
<ellipse cx="161.58" cy="112.58" rx="1.38" ry="0.6" fill="#b87060" opacity="0.24"/>
<ellipse cx="137.38" cy="113.14" rx="1.21" ry="0.6" fill="#b87060" opacity="0.43"/>
<ellipse cx="155.7" cy="113.2" rx="1.11" ry="0.6" fill="#b87060" opacity="0.39"/>
<ellipse cx="130.29" cy="113.64" rx="1.34" ry="0.6" fill="#b87060" opacity="0.38"/>
<ellipse cx="146.93" cy="112.73" rx="1.01" ry="0.6" fill="#b87060" opacity="0.25"/>
<ellipse cx="139.62" cy="113.89" rx="0.96" ry="0.6" fill="#b87060" opacity="0.42"/>
<ellipse cx="170.73" cy="111.74" rx="1.1" ry="0.6" fill="#b87060" opacity="0.32"/>
<ellipse cx="126.22" cy="113.96" rx="1.53" ry="0.6" fill="#b87060" opacity="0.23"/>
<ellipse cx="156.04" cy="112.4" rx="1.26" ry="0.6" fill="#b87060" opacity="0.42"/>
<ellipse cx="135.56" cy="113.09" rx="0.87" ry="0.6" fill="#b87060" opacity="0.33"/>
<ellipse cx="125.91" cy="113.57" rx="1.2" ry="0.6" fill="#b87060" opacity="0.43"/>
<g transform="translate(0 0)" stroke="#2a2a2a" stroke-width="1.1" fill="none">
<path d="M36.4,115.3 L177.2,155.3 L255.2,87.4 M177.2,155.3 L181,156.7"/>
<path d="M255.2,87.4 L255.2,32.7 L258.6,32.7 M255.2,60.5 L258.3,60.5" stroke="#6a6a6a" stroke-width="1.3"/>
<path d="M39.1,116.07 l-1.8,2.6"/>
<path d="M62.57,122.73 l-1.8,2.6"/>
<path d="M86.04,129.4 l-1.8,2.6"/>
<path d="M109.51,136.07 l-1.8,2.6"/>
<path d="M132.98,142.74 l-1.8,2.6"/>
<path d="M156.45,149.41 l-1.8,2.6"/>
<path d="M191.4,144 l3.6,1.6"/>
<path d="M204.9,132.1 l3.6,1.6"/>
<path d="M218.4,120.2 l3.6,1.6"/>
<path d="M231.9,108.3 l3.6,1.6"/>
<path d="M245.4,96.4 l3.6,1.6"/>
</g>
<g transform="translate(0 0)" fill="#1e1e1e" font-size="10.8">
<text x="32" y="134.8">0.2 μm</text>
<text x="78.1" y="147.9">0.6 μm</text>
<text x="127" y="162">1.0 μm</text>
<text x="194" y="155.5">0.2 μm</text>
<text x="221" y="131.3">0.6 μm</text>
<text x="250.4" y="108.5">1.0 μm</text>
<text x="261.5" y="35.9">225 nm</text>
<text x="263.2" y="62">50 nm</text>
</g>
<path d="M39.7,275.2 L119.2,207.2 L253,247.5 L234.6,266 L200.5,293.8 L173.8,314.7 Z" fill="url(#plane)"/>
<path d="M179,218 L183.5,212 L186,218 L189,228 L191,236 L184,236 Z" fill="#2a0c0c"/>
<ellipse cx="150" cy="277" rx="63" ry="26" fill="url(#glow)"/>
<g filter="url(#wallblur)">
<rect x="101" y="262" width="1.4" height="8.8" fill="url(#wallB0)"/>
<rect x="102" y="253" width="1.4" height="19.4" fill="url(#wallB0)"/>
<rect x="103" y="247" width="1.4" height="27" fill="url(#wallB0)"/>
<rect x="104" y="242.67" width="1.4" height="32.93" fill="url(#wallB0)"/>
<rect x="105" y="240" width="1.4" height="37.2" fill="url(#wallB0)"/>
<rect x="106" y="237.33" width="1.4" height="40.92" fill="url(#wallB0)"/>
<rect x="107" y="238" width="1.4" height="40.75" fill="url(#wallB0)"/>
<rect x="108" y="242" width="1.4" height="37.25" fill="url(#wallB-1)"/>
<rect x="109" y="245.17" width="1.4" height="34.58" fill="url(#wallB0)"/>
<rect x="110" y="247.5" width="1.4" height="32.75" fill="url(#wallB-1)"/>
<rect x="111" y="249.83" width="1.4" height="30.92" fill="url(#wallB0)"/>
<rect x="112" y="251.32" width="1.4" height="29.93" fill="url(#wallB-1)"/>
<rect x="113" y="251.97" width="1.4" height="29.78" fill="url(#wallB0)"/>
<rect x="114" y="252.62" width="1.4" height="29.63" fill="url(#wallB1)"/>
<rect x="115" y="253.26" width="1.4" height="29.49" fill="url(#wallB1)"/>
<rect x="116" y="253.91" width="1.4" height="29.34" fill="url(#wallB-1)"/>
<rect x="117" y="254.56" width="1.4" height="29.19" fill="url(#wallB0)"/>
<rect x="118" y="255.21" width="1.4" height="29.04" fill="url(#wallB-1)"/>
<rect x="119" y="255.85" width="1.4" height="28.9" fill="url(#wallB1)"/>
<rect x="120" y="256.5" width="1.4" height="28.58" fill="url(#wallB-1)"/>
<rect x="121" y="256.48" width="1.4" height="28.76" fill="url(#wallB0)"/>
<rect x="122" y="256.45" width="1.4" height="28.93" fill="url(#wallB0)"/>
<rect x="123" y="256.43" width="1.4" height="29.11" fill="url(#wallB0)"/>
<rect x="124" y="256.4" width="1.4" height="29.29" fill="url(#wallB0)"/>
<rect x="125" y="256.38" width="1.4" height="29.47" fill="url(#wallB1)"/>
<rect x="126" y="256.35" width="1.4" height="29.65" fill="url(#wallB0)"/>
<rect x="127" y="256.33" width="1.4" height="29.83" fill="url(#wallB1)"/>
<rect x="128" y="256.3" width="1.4" height="30" fill="url(#wallB1)"/>
<rect x="129" y="256.28" width="1.4" height="30.18" fill="url(#wallB-1)"/>
<rect x="130" y="256.25" width="1.4" height="30.36" fill="url(#wallB0)"/>
<rect x="131" y="256.23" width="1.4" height="30.54" fill="url(#wallB-1)"/>
<rect x="132" y="256.2" width="1.4" height="30.72" fill="url(#wallB0)"/>
<rect x="133" y="256.18" width="1.4" height="30.9" fill="url(#wallB0)"/>
<rect x="134" y="256.16" width="1.4" height="31.08" fill="url(#wallB0)"/>
<rect x="135" y="256.13" width="1.4" height="31.25" fill="url(#wallB0)"/>
<rect x="136" y="256.11" width="1.4" height="31.43" fill="url(#wallB0)"/>
<rect x="137" y="256.08" width="1.4" height="31.61" fill="url(#wallB0)"/>
<rect x="138" y="256.06" width="1.4" height="31.79" fill="url(#wallB0)"/>
<rect x="139" y="256.03" width="1.4" height="31.97" fill="url(#wallB0)"/>
<rect x="140" y="256.01" width="1.4" height="32.15" fill="url(#wallB-1)"/>
<rect x="141" y="255.92" width="1.4" height="32.39" fill="url(#wallB-1)"/>
<rect x="142" y="255.8" width="1.4" height="32.66" fill="url(#wallB0)"/>
<rect x="143" y="255.68" width="1.4" height="32.93" fill="url(#wallB-1)"/>
<rect x="144" y="255.56" width="1.4" height="33.2" fill="url(#wallB-1)"/>
<rect x="145" y="255.45" width="1.4" height="33.48" fill="url(#wallB0)"/>
<rect x="146" y="255.33" width="1.4" height="33.62" fill="url(#wallB1)"/>
<rect x="147" y="255.21" width="1.4" height="33.63" fill="url(#wallB1)"/>
<rect x="148" y="255.09" width="1.4" height="33.65" fill="url(#wallB-1)"/>
<rect x="149" y="254.98" width="1.4" height="33.66" fill="url(#wallB0)"/>
<rect x="150" y="254.86" width="1.4" height="33.68" fill="url(#wallB-1)"/>
<rect x="151" y="254.74" width="1.4" height="33.69" fill="url(#wallB0)"/>
<rect x="152" y="254.62" width="1.4" height="33.7" fill="url(#wallB0)"/>
<rect x="153" y="254.51" width="1.4" height="33.72" fill="url(#wallB1)"/>
<rect x="154" y="254.39" width="1.4" height="33.73" fill="url(#wallB0)"/>
<rect x="155" y="254.27" width="1.4" height="33.75" fill="url(#wallB1)"/>
<rect x="156" y="254.15" width="1.4" height="33.76" fill="url(#wallB1)"/>
<rect x="157" y="254.04" width="1.4" height="33.78" fill="url(#wallB-1)"/>
<rect x="158" y="253.92" width="1.4" height="33.79" fill="url(#wallB0)"/>
<rect x="159" y="253.8" width="1.4" height="33.8" fill="url(#wallB1)"/>
<rect x="160" y="253.68" width="1.4" height="33.82" fill="url(#wallB0)"/>
<rect x="161" y="253.56" width="1.4" height="33.83" fill="url(#wallB1)"/>
<rect x="162" y="253.45" width="1.4" height="33.85" fill="url(#wallB-1)"/>
<rect x="163" y="253.33" width="1.4" height="33.86" fill="url(#wallB-1)"/>
<rect x="164" y="253.21" width="1.4" height="33.87" fill="url(#wallB0)"/>
<rect x="165" y="253.09" width="1.4" height="33.89" fill="url(#wallB1)"/>
<rect x="166" y="252.95" width="1.4" height="33.93" fill="url(#wallB1)"/>
<rect x="167" y="252.69" width="1.4" height="34.08" fill="url(#wallB0)"/>
<rect x="168" y="252.44" width="1.4" height="34.23" fill="url(#wallB-1)"/>
<rect x="169" y="252.19" width="1.4" height="34.38" fill="url(#wallB-1)"/>
<rect x="170" y="251.93" width="1.4" height="34.53" fill="url(#wallB1)"/>
<rect x="171" y="251.68" width="1.4" height="34.68" fill="url(#wallB1)"/>
<rect x="172" y="251.42" width="1.4" height="34.83" fill="url(#wallB0)"/>
<rect x="173" y="251.17" width="1.4" height="34.99" fill="url(#wallB0)"/>
<rect x="174" y="250.92" width="1.4" height="35.14" fill="url(#wallB0)"/>
<rect x="175" y="250.66" width="1.4" height="35.15" fill="url(#wallB-1)"/>
<rect x="176" y="250.41" width="1.4" height="35.02" fill="url(#wallB0)"/>
<rect x="177" y="250.15" width="1.4" height="34.89" fill="url(#wallB1)"/>
<rect x="178" y="249.9" width="1.4" height="34.76" fill="url(#wallB0)"/>
<rect x="179" y="249.64" width="1.4" height="34.63" fill="url(#wallB0)"/>
<rect x="180" y="249.39" width="1.4" height="34.49" fill="url(#wallB-1)"/>
<rect x="181" y="249.14" width="1.4" height="34.36" fill="url(#wallB-1)"/>
<rect x="182" y="248.88" width="1.4" height="34.23" fill="url(#wallB-1)"/>
<rect x="183" y="248.63" width="1.4" height="34.1" fill="url(#wallB-1)"/>
<rect x="184" y="248.05" width="1.4" height="34.3" fill="url(#wallB-1)"/>
<rect x="185" y="247.15" width="1.4" height="34.81" fill="url(#wallB-1)"/>
<rect x="186" y="246.25" width="1.4" height="35.33" fill="url(#wallB1)"/>
<rect x="187" y="245.35" width="1.4" height="35.84" fill="url(#wallB0)"/>
<rect x="188" y="244.45" width="1.4" height="36.19" fill="url(#wallB0)"/>
<rect x="189" y="245.5" width="1.4" height="34.41" fill="url(#wallB1)"/>
<rect x="190" y="248.5" width="1.4" height="30.68" fill="url(#wallB-1)"/>
<rect x="191" y="251.33" width="1.4" height="27.12" fill="url(#wallB0)"/>
<rect x="192" y="254" width="1.4" height="23.73" fill="url(#wallB-1)"/>
<rect x="193" y="256.67" width="1.4" height="20.33" fill="url(#wallB0)"/>
<rect x="194" y="259.5" width="1.4" height="16.77" fill="url(#wallB0)"/>
<rect x="195" y="262.5" width="1.4" height="13.05" fill="url(#wallB0)"/>
<rect x="196" y="265.5" width="1.4" height="9.32" fill="url(#wallB0)"/>
<rect x="197" y="268.25" width="1.4" height="5.84" fill="url(#wallB0)"/>
<rect x="198" y="270.75" width="1.4" height="2.61" fill="url(#wallB0)"/>
</g>
<path d="M101,268 L102,256 L103,250 L104,244 L105,241.33 L106,238.67 L107,236 L108,240 L109,244 L110,246.33 L111,248.67 L112,251 L113,251.65 L114,252.29 L115,252.94 L116,253.59 L117,254.24 L118,254.88 L119,255.53 L120,256.18 L121,256.49 L122,256.46 L123,256.44 L124,256.41 L125,256.39 L126,256.36 L127,256.34 L128,256.32 L129,256.29 L130,256.27 L131,256.24 L132,256.22 L133,256.19 L134,256.17 L135,256.14 L136,256.12 L137,256.09 L138,256.07 L139,256.04 L140,256.02 L141,255.98 L142,255.86 L143,255.74 L144,255.62 L145,255.51 L146,255.39 L147,255.27 L148,255.15 L149,255.04 L150,254.92 L151,254.8 L152,254.68 L153,254.56 L154,254.45 L155,254.33 L156,254.21 L157,254.09 L158,253.98 L159,253.86 L160,253.74 L161,253.62 L162,253.51 L163,253.39 L164,253.27 L165,253.15 L166,253.04 L167,252.82 L168,252.57 L169,252.31 L170,252.06 L171,251.81 L172,251.55 L173,251.3 L174,251.04 L175,250.79 L176,250.53 L177,250.28 L178,250.03 L179,249.77 L180,249.52 L181,249.26 L182,249.01 L183,248.75 L184,248.5 L185,247.6 L186,246.7 L187,245.8 L188,244.9 L189,244 L190,247 L191,250 L192,252.67 L193,255.33 L194,258 L195,261 L196,264 L197,267 L198,269.5 L199,272 L199,273 L198,273.73 L197,274.45 L196,275.18 L195,275.91 L194,276.64 L193,277.36 L192,278.09 L191,278.82 L190,279.55 L189,280.27 L188,281 L187,281.38 L186,281.77 L185,282.15 L184,282.54 L183,282.92 L182,283.31 L181,283.69 L180,284.08 L179,284.46 L178,284.85 L177,285.23 L176,285.62 L175,286 L174,286.1 L173,286.21 L172,286.31 L171,286.41 L170,286.52 L169,286.62 L168,286.72 L167,286.83 L166,286.93 L165,287.03 L164,287.14 L163,287.24 L162,287.34 L161,287.45 L160,287.55 L159,287.66 L158,287.76 L157,287.86 L156,287.97 L155,288.07 L154,288.17 L153,288.28 L152,288.38 L151,288.48 L150,288.59 L149,288.69 L148,288.79 L147,288.9 L146,289 L145,288.85 L144,288.69 L143,288.54 L142,288.38 L141,288.23 L140,288.08 L139,287.92 L138,287.77 L137,287.62 L136,287.46 L135,287.31 L134,287.15 L133,287 L132,286.85 L131,286.69 L130,286.54 L129,286.38 L128,286.23 L127,286.08 L126,285.92 L125,285.77 L124,285.62 L123,285.46 L122,285.31 L121,285.15 L120,285 L119,284.5 L118,284 L117,283.5 L116,283 L115,282.5 L114,282 L113,281.5 L112,281 L111,280.5 L110,280 L109,279.5 L108,279 L107,278.5 L106,278 L105,276.4 L104,274.8 L103,273.2 L102,271.6 L101,270 Z" fill="url(#wallshade)" filter="url(#wallblur)"/>
<path d="M107,232.2 L118.8,220.3 L140.8,213.6 L162.9,211 L171.4,207.6 L178.1,207.6 L182.4,215.3 L188.3,233.9 L190,249 L184,252 L166.3,256.5 L154,257.5 L140.8,259.5 L120.5,260 L112,254 L108.6,247.5 L104.5,240 Z" fill="url(#topg)" filter="url(#tex)"/>
<ellipse cx="150.28" cy="223.39" rx="2.75" ry="2.7" fill="#f6eed0" opacity="0.7861392482090672" filter="url(#blur1)"/>
<ellipse cx="163.54" cy="225.12" rx="1.11" ry="1.28" fill="#fbf6e4" opacity="0.6376276191128656" filter="url(#blur1)"/>
<ellipse cx="162.3" cy="244.8" rx="2.26" ry="1.02" fill="#f2e4b8" opacity="0.6132604219898057" filter="url(#blur1)"/>
<ellipse cx="169.33" cy="246.57" rx="1.86" ry="2.37" fill="#f6eed0" opacity="0.5055069673595612" filter="url(#blur1)"/>
<ellipse cx="157" cy="229.17" rx="1" ry="2.57" fill="#f2e4b8" opacity="0.7594374812110698" filter="url(#blur1)"/>
<ellipse cx="169.5" cy="231.38" rx="1.37" ry="1.56" fill="#f2e4b8" opacity="0.6656893875483243" filter="url(#blur1)"/>
<ellipse cx="158.23" cy="226.49" rx="3.07" ry="2.24" fill="#eedc9c" opacity="0.5695155591415471" filter="url(#blur1)"/>
<ellipse cx="157.02" cy="237.99" rx="1.32" ry="1.12" fill="#fbf6e4" opacity="0.7769601243827045" filter="url(#blur1)"/>
<ellipse cx="149.43" cy="226.64" rx="2.56" ry="1.12" fill="#fbf6e4" opacity="0.7774072298588284" filter="url(#blur1)"/>
<ellipse cx="151.4" cy="234.09" rx="2.06" ry="2.27" fill="#f6eed0" opacity="0.5524727343770848" filter="url(#blur1)"/>
<ellipse cx="179.17" cy="227.17" rx="1.79" ry="1.73" fill="#eedc9c" opacity="0.5964737903367442" filter="url(#blur1)"/>
<ellipse cx="160.41" cy="232.28" rx="1.1" ry="1.33" fill="#f2e4b8" opacity="0.49760822282951" filter="url(#blur1)"/>
<ellipse cx="162.42" cy="247.48" rx="2.02" ry="1.92" fill="#fbf6e4" opacity="0.7602412058795982" filter="url(#blur1)"/>
<ellipse cx="174.79" cy="241.69" rx="2.75" ry="2.55" fill="#f6eed0" opacity="0.6231906740242248" filter="url(#blur1)"/>
<ellipse cx="170.59" cy="232.01" rx="2.13" ry="1.65" fill="#f2e4b8" opacity="0.5859838106503379" filter="url(#blur1)"/>
<ellipse cx="174.47" cy="227.58" rx="1.69" ry="1.57" fill="#f2e4b8" opacity="0.769509446853984" filter="url(#blur1)"/>
<ellipse cx="150.72" cy="223.29" rx="1.68" ry="1.87" fill="#f6eed0" opacity="0.48238329287379716" filter="url(#blur1)"/>
<ellipse cx="147.27" cy="223.91" rx="1.07" ry="2.33" fill="#fbf6e4" opacity="0.7805182047194507" filter="url(#blur1)"/>
<ellipse cx="150.14" cy="235.86" rx="1.12" ry="2.65" fill="#f6eed0" opacity="0.7706657722400552" filter="url(#blur1)"/>
<ellipse cx="157.64" cy="239.29" rx="3.16" ry="2.02" fill="#f2e4b8" opacity="0.7021597173705578" filter="url(#blur1)"/>
<ellipse cx="163.47" cy="227.92" rx="1.96" ry="1.27" fill="#eedc9c" opacity="0.5679251704847884" filter="url(#blur1)"/>
<ellipse cx="143.82" cy="237.64" rx="2.87" ry="2.76" fill="#eedc9c" opacity="0.8340525373463601" filter="url(#blur1)"/>
<ellipse cx="157.98" cy="224.64" rx="1.6" ry="1.85" fill="#f2e4b8" opacity="0.4950241398125909" filter="url(#blur1)"/>
<ellipse cx="168.06" cy="222.51" rx="1.39" ry="2.69" fill="#fbf6e4" opacity="0.5220481189761681" filter="url(#blur1)"/>
<ellipse cx="148.38" cy="233.59" rx="2.21" ry="1.91" fill="#f6eed0" opacity="0.7644090318535322" filter="url(#blur1)"/>
<ellipse cx="164.46" cy="219.83" rx="2.46" ry="2.37" fill="#fbf6e4" opacity="0.6737257322802233" filter="url(#blur1)"/>
<ellipse cx="153.47" cy="220.26" rx="1.58" ry="2.77" fill="#fbf6e4" opacity="0.8327541707323418" filter="url(#blur1)"/>
<ellipse cx="157.69" cy="238.71" rx="2.87" ry="1.85" fill="#fbf6e4" opacity="0.580361973260769" filter="url(#blur1)"/>
<ellipse cx="160.49" cy="241.5" rx="2.1" ry="2.21" fill="#fbf6e4" opacity="0.5891538032110799" filter="url(#blur1)"/>
<ellipse cx="151.92" cy="222.19" rx="2.82" ry="1.63" fill="#f2e4b8" opacity="0.7979645009844645" filter="url(#blur1)"/>
<ellipse cx="154.91" cy="218.36" rx="3.1" ry="1.93" fill="#f2e4b8" opacity="0.5294612790245422" filter="url(#blur1)"/>
<ellipse cx="150.64" cy="244.27" rx="1.62" ry="1.14" fill="#eedc9c" opacity="0.5187307018541707" filter="url(#blur1)"/>
<ellipse cx="164.74" cy="221.03" rx="2.46" ry="1.76" fill="#fbf6e4" opacity="0.7381657898307348" filter="url(#blur1)"/>
<ellipse cx="169.49" cy="234.11" rx="1.97" ry="2.17" fill="#f2e4b8" opacity="0.7535988619505085" filter="url(#blur1)"/>
<ellipse cx="168.81" cy="245.29" rx="3.17" ry="2.76" fill="#f2e4b8" opacity="0.47165720430555896" filter="url(#blur1)"/>
<ellipse cx="169.15" cy="239.71" rx="1.4" ry="1.35" fill="#f6eed0" opacity="0.6161959095756118" filter="url(#blur1)"/>
<ellipse cx="152.82" cy="243.48" rx="1.16" ry="1.37" fill="#fbf6e4" opacity="0.45026424631631484" filter="url(#blur1)"/>
<ellipse cx="153.69" cy="237.73" rx="1.9" ry="1.21" fill="#fbf6e4" opacity="0.8357482672812406" filter="url(#blur1)"/>
<ellipse cx="152.08" cy="230.29" rx="1.65" ry="1.92" fill="#fbf6e4" opacity="0.8333202014911716" filter="url(#blur1)"/>
<ellipse cx="167.13" cy="223.59" rx="2.79" ry="2.16" fill="#fbf6e4" opacity="0.6369889084759727" filter="url(#blur1)"/>
<ellipse cx="168.5" cy="241.25" rx="2.05" ry="1.36" fill="#f2e4b8" opacity="0.6934439572418666" filter="url(#blur1)"/>
<ellipse cx="151.34" cy="245.17" rx="1" ry="1.19" fill="#f2e4b8" opacity="0.5801759202166089" filter="url(#blur1)"/>
<ellipse cx="172.19" cy="224.58" rx="1.94" ry="2.76" fill="#eedc9c" opacity="0.5665978326784813" filter="url(#blur1)"/>
<ellipse cx="173.53" cy="231.3" rx="3.11" ry="2.64" fill="#fbf6e4" opacity="0.7464104890256541" filter="url(#blur1)"/>
<ellipse cx="159.01" cy="240.61" rx="1.04" ry="2.7" fill="#fbf6e4" opacity="0.646701887039973" filter="url(#blur1)"/>
<ellipse cx="159.03" cy="243.76" rx="1.27" ry="2.12" fill="#eedc9c" opacity="0.5482001223954651" filter="url(#blur1)"/>
<ellipse cx="168.8" cy="234.47" rx="1.86" ry="1.86" fill="#fbf6e4" opacity="0.5473886934973393" filter="url(#blur1)"/>
<ellipse cx="158.4" cy="233.49" rx="2.08" ry="2.52" fill="#fbf6e4" opacity="0.5672753020890473" filter="url(#blur1)"/>
<ellipse cx="151.81" cy="226.08" rx="2.42" ry="2.09" fill="#f6eed0" opacity="0.45646910596012674" filter="url(#blur1)"/>
<ellipse cx="169.09" cy="239.05" rx="2.56" ry="2.1" fill="#f6eed0" opacity="0.635734696238532" filter="url(#blur1)"/>
<ellipse cx="151.46" cy="243.58" rx="2.3" ry="1.07" fill="#fbf6e4" opacity="0.6712912871110848" filter="url(#blur1)"/>
<ellipse cx="159.55" cy="228.17" rx="2.51" ry="1.34" fill="#eedc9c" opacity="0.7613530659900041" filter="url(#blur1)"/>
<ellipse cx="149.05" cy="238.33" rx="2.56" ry="2.14" fill="#eedc9c" opacity="0.7934771535149673" filter="url(#blur1)"/>
<ellipse cx="169.1" cy="223.73" rx="2.5" ry="2.3" fill="#fbf6e4" opacity="0.6360338653028712" filter="url(#blur1)"/>
<ellipse cx="162.54" cy="224.19" rx="1.01" ry="2.4" fill="#fbf6e4" opacity="0.7093578332088266" filter="url(#blur1)"/>
<ellipse cx="151.56" cy="234.54" rx="1.36" ry="2.25" fill="#eedc9c" opacity="0.8391687373242884" filter="url(#blur1)"/>
<ellipse cx="149.96" cy="230.54" rx="2.19" ry="1.09" fill="#f2e4b8" opacity="0.5568819338667206" filter="url(#blur1)"/>
<ellipse cx="166.1" cy="235.05" rx="3.07" ry="1.6" fill="#eedc9c" opacity="0.8414743961951274" filter="url(#blur1)"/>
<ellipse cx="177.91" cy="232.86" rx="1.11" ry="2.52" fill="#f2e4b8" opacity="0.6958222021035475" filter="url(#blur1)"/>
<ellipse cx="164.85" cy="228.24" rx="2.97" ry="2.79" fill="#eedc9c" opacity="0.5098920022937233" filter="url(#blur1)"/>
<ellipse cx="152.61" cy="226.41" rx="1.35" ry="2.12" fill="#f6eed0" opacity="0.6722044232732496" filter="url(#blur1)"/>
<ellipse cx="153.23" cy="221.33" rx="1.62" ry="2.03" fill="#f6eed0" opacity="0.7469350498870924" filter="url(#blur1)"/>
<ellipse cx="167.03" cy="228.94" rx="1.95" ry="1.57" fill="#eedc9c" opacity="0.6458319048684922" filter="url(#blur1)"/>
<ellipse cx="172.77" cy="229.31" rx="1.12" ry="2.26" fill="#f2e4b8" opacity="0.6774592805842934" filter="url(#blur1)"/>
<ellipse cx="157.52" cy="225.25" rx="3.07" ry="1.99" fill="#f2e4b8" opacity="0.5552986891960684" filter="url(#blur1)"/>
<ellipse cx="161" cy="233" rx="17" ry="14" fill="#e2cc88" opacity="0.35" filter="url(#blur1)"/>
<ellipse cx="118" cy="236" rx="3" ry="3" fill="#ecd070" opacity="0.5" filter="url(#blur1)"/>
<ellipse cx="130" cy="248" rx="3" ry="2" fill="#ecd070" opacity="0.45" filter="url(#blur1)"/>
<ellipse cx="143.11" cy="285.44" rx="1.31" ry="0.6" fill="#b87060" opacity="0.22"/>
<ellipse cx="151.89" cy="284.66" rx="1.29" ry="0.6" fill="#b87060" opacity="0.44"/>
<ellipse cx="122.98" cy="286.68" rx="1.29" ry="0.6" fill="#b87060" opacity="0.24"/>
<ellipse cx="134.76" cy="286.75" rx="1.6" ry="0.6" fill="#b87060" opacity="0.23"/>
<ellipse cx="158.8" cy="285.49" rx="0.99" ry="0.6" fill="#b87060" opacity="0.35"/>
<ellipse cx="122.37" cy="286.43" rx="1.34" ry="0.6" fill="#b87060" opacity="0.35"/>
<ellipse cx="162.6" cy="284" rx="1.08" ry="0.6" fill="#b87060" opacity="0.42"/>
<ellipse cx="152.13" cy="285.07" rx="1.12" ry="0.6" fill="#b87060" opacity="0.45"/>
<ellipse cx="151.59" cy="284.45" rx="1.44" ry="0.6" fill="#b87060" opacity="0.28"/>
<ellipse cx="143.85" cy="285.13" rx="1.16" ry="0.6" fill="#b87060" opacity="0.28"/>
<ellipse cx="124.88" cy="286.7" rx="0.88" ry="0.6" fill="#b87060" opacity="0.4"/>
<ellipse cx="121.4" cy="287.1" rx="1.45" ry="0.6" fill="#b87060" opacity="0.32"/>
<ellipse cx="159.02" cy="284.42" rx="1.39" ry="0.6" fill="#b87060" opacity="0.31"/>
<ellipse cx="132.7" cy="286.81" rx="1.12" ry="0.6" fill="#b87060" opacity="0.29"/>
<ellipse cx="167.29" cy="284.19" rx="1.33" ry="0.6" fill="#b87060" opacity="0.24"/>
<ellipse cx="166.38" cy="284.07" rx="0.84" ry="0.6" fill="#b87060" opacity="0.44"/>
<g transform="translate(0 171)" stroke="#2a2a2a" stroke-width="1.1" fill="none">
<path d="M36.4,115.3 L177.2,155.3 L255.2,87.4 M177.2,155.3 L181,156.7"/>
<path d="M255.2,87.4 L255.2,32.7 L258.6,32.7 M255.2,60.5 L258.3,60.5" stroke="#6a6a6a" stroke-width="1.3"/>
<path d="M39.1,116.07 l-1.8,2.6"/>
<path d="M62.57,122.73 l-1.8,2.6"/>
<path d="M86.04,129.4 l-1.8,2.6"/>
<path d="M109.51,136.07 l-1.8,2.6"/>
<path d="M132.98,142.74 l-1.8,2.6"/>
<path d="M156.45,149.41 l-1.8,2.6"/>
<path d="M191.4,144 l3.6,1.6"/>
<path d="M204.9,132.1 l3.6,1.6"/>
<path d="M218.4,120.2 l3.6,1.6"/>
<path d="M231.9,108.3 l3.6,1.6"/>
<path d="M245.4,96.4 l3.6,1.6"/>
</g>
<g transform="translate(0 171)" fill="#1e1e1e" font-size="10.8">
<text x="32" y="134.8">0.2 μm</text>
<text x="78.1" y="147.9">0.6 μm</text>
<text x="127" y="162">1.0 μm</text>
<text x="194" y="155.5">0.2 μm</text>
<text x="221" y="131.3">0.6 μm</text>
<text x="250.4" y="108.5">1.0 μm</text>
<text x="261.5" y="35.9">225 nm</text>
<text x="263.2" y="62">50 nm</text>
</g>
<rect x="320.6" y="125.3" width="7.6" height="69" fill="url(#cbar)" stroke="#222" stroke-width="1"/>
<text x="307.6" y="121" font-size="12.3" fill="#1e1e1e">225 nm</text>
<text x="305.3" y="205.5" font-size="12.3" fill="#1e1e1e">-125 nm</text>
<text x="163" y="27.4" font-size="15" text-anchor="middle" font-weight="bold" stroke="#111" stroke-width="0.35" fill="#111" >Bare MDs</text>
<text x="163" y="195" font-size="15" text-anchor="middle" font-weight="bold" stroke="#111" stroke-width="0.35" fill="#111" >MDs-PEG</text>
</svg></body></html>
